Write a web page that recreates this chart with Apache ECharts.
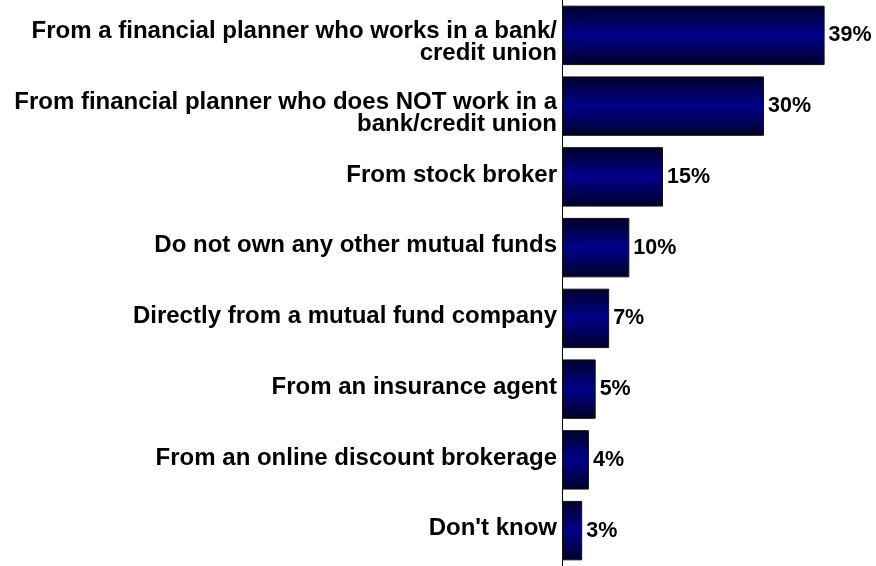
<!DOCTYPE html>
<html>
<head>
<meta charset="utf-8">
<script src="https://cdn.jsdelivr.net/npm/echarts@6/dist/echarts.min.js"></script>
<style>
  html, body { margin: 0; padding: 0; background: #ffffff; }
  #chart { width: 876px; height: 566px; }
</style>
</head>
<body>
<div id="chart"></div>
<script>
// Where respondents bought their other mutual funds (% of respondents)
const categories = [
  'From a financial planner who works in a bank/\ncredit union',
  'From financial planner who does NOT work in a\nbank/credit union',
  'From stock broker',
  'Do not own any other mutual funds',
  'Directly from a mutual fund company',
  'From an insurance agent',
  'From an online discount brokerage',
  "Don't know"
];
const values = [39, 30, 15, 10, 7, 5, 4, 3];

const chart = echarts.init(document.getElementById('chart'), null, { renderer: 'canvas' });

const barFill = new echarts.graphic.LinearGradient(0, 0, 0, 1, [
  { offset: 0, color: '#00002a' },
  { offset: 0.5, color: '#00008a' },
  { offset: 1, color: '#00002a' }
]);

const labelFont = 'Liberation Sans, Arial, sans-serif';

chart.setOption({
  animation: false,
  backgroundColor: '#ffffff',
  grid: { left: 562, top: 0, width: 303, height: 571 },
  xAxis: {
    type: 'value',
    min: 0,
    max: 45,
    show: false
  },
  yAxis: {
    type: 'category',
    data: categories,
    inverse: true,
    axisLine: { show: true, lineStyle: { color: '#000000', width: 1 } },
    axisTick: { show: false },
    axisLabel: {
      interval: 0,
      showMinLabel: true,
      showMaxLabel: true,
      hideOverlap: false,
      margin: 5,
      align: 'right',
      // wrapped labels are pushed down by a short spacer line
      formatter: (v) => (v.indexOf('\n') >= 0 ? '{gap| }\n' + v : v),
      padding: [0, 0, 4, 0],
      fontFamily: labelFont,
      fontWeight: 'bold',
      fontSize: 24,
      lineHeight: 22,
      color: '#000000',
      rich: {
        gap: { fontSize: 4, lineHeight: 18 }
      }
    }
  },
  series: [{
    type: 'bar',
    data: values,
    barCategoryGap: '16%',
    itemStyle: {
      color: barFill,
      borderColor: '#111111',
      borderWidth: 1
    },
    label: {
      show: true,
      position: 'right',
      distance: 4,
      formatter: '{c}%',
      padding: [0, 0, 4, 0],
      fontFamily: labelFont,
      fontWeight: 'bold',
      fontSize: 21.5,
      color: '#000000'
    }
  }]
});
</script>
</body>
</html>
